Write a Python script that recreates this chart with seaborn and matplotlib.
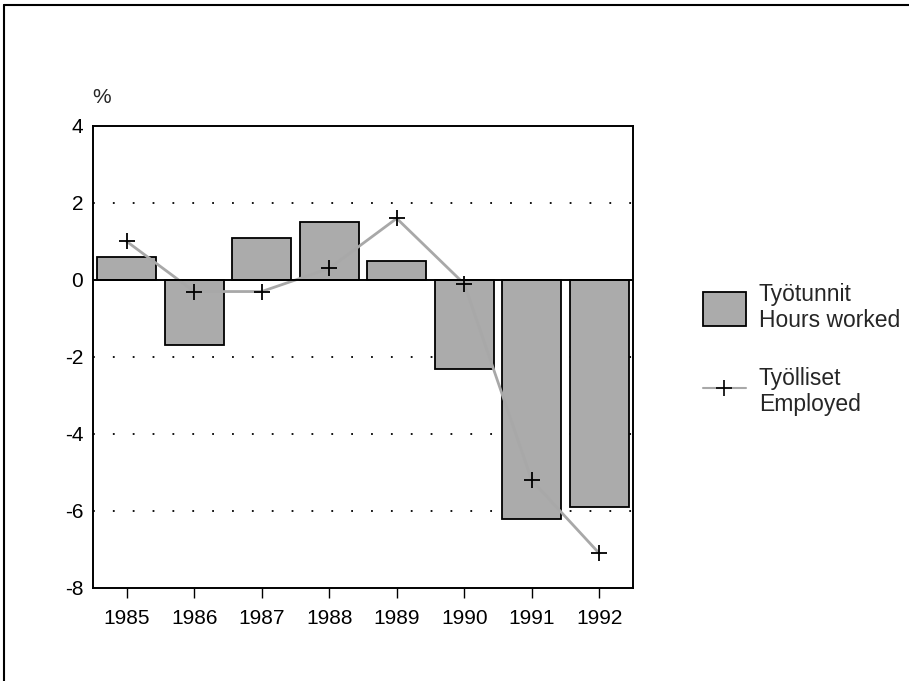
import matplotlib
matplotlib.use("Agg")
import matplotlib.pyplot as plt
import seaborn as sns
import pandas as pd
from matplotlib.patches import Patch
from matplotlib.lines import Line2D

# --- Data ---
years = ["1985", "1986", "1987", "1988", "1989", "1990", "1991", "1992"]
hours_worked = [0.6, -1.7, 1.1, 1.5, 0.5, -2.3, -6.2, -5.9]
employed = [1.0, -0.3, -0.3, 0.3, 1.6, -0.1, -5.2, -7.1]
y_ticks = [4, 2, 0, -2, -4, -6, -8]
label_hours = "Työtunnit\nHours worked"
label_employed = "Työlliset\nEmployed"

df = pd.DataFrame({"year": years, "hours": hours_worked, "employed": employed})

sns.set_theme(style="white")
plt.rcParams["font.family"] = ["Liberation Sans", "DejaVu Sans"]

fig = plt.figure(figsize=(9.09, 6.81), dpi=100)
ax = fig.add_axes([0.1023, 0.1366, 0.594, 0.6784])

# --- Bars ---
sns.barplot(data=df, x="year", y="hours", color="#ababab", saturation=1,
            edgecolor="black", linewidth=1.3, width=0.87, ax=ax, zorder=2)

# --- Line with + markers ---
sns.pointplot(data=df, x="year", y="employed", color="#a8a8a8", markers="+",
              linewidth=2.0, markersize=12, ax=ax, zorder=3)
for ln in ax.lines:
    ln.set_markeredgecolor("black")
    ln.set_markeredgewidth(1.3)

# --- Grid / axes ---
for yv in [2, -2, -4, -6]:
    ax.axhline(yv, color="black", linestyle=(0, (1, 10)), linewidth=1.3, zorder=1)
ax.axhline(0, color="black", linewidth=1.4, zorder=4)

ax.set_ylim(-8, 4)
ax.set_xlim(-0.5, 7.5)
ax.set_yticks(y_ticks)
ax.set_yticklabels([str(v) for v in y_ticks])
ax.set_xlabel("")
ax.set_ylabel("")
for sp in ax.spines.values():
    sp.set_color("black")
    sp.set_linewidth(1.4)
ax.tick_params(axis="y", length=0, pad=7, labelsize=15, colors="black")
ax.tick_params(axis="x", bottom=True, length=7, width=1, pad=8,
               labelsize=15, colors="black", direction="out")

fig.text(0.102, 0.843, "%", fontsize=15, ha="left", va="bottom")

# --- Legend ---
handles = [
    Patch(facecolor="#ababab", edgecolor="black", linewidth=1.3),
    Line2D([0], [0], color="#a8a8a8", linewidth=1.5, marker="+",
           markersize=11, markeredgecolor="black", markeredgewidth=1.2),
]
fig.legend(handles, [label_hours, label_employed], loc="upper left",
           bbox_to_anchor=(0.773, 0.585), frameon=False, fontsize=16.5,
           handlelength=1.9, handleheight=1.9, labelspacing=1.5,
           handletextpad=0.55, borderaxespad=0, borderpad=0)

# --- Page border ---
fig.add_artist(Line2D([0.004, 0.004], [0, 0.993], color="black", linewidth=1.5,
                      transform=fig.transFigure))
fig.add_artist(Line2D([0.004, 1], [0.993, 0.993], color="black", linewidth=1.5,
                      transform=fig.transFigure))

fig.savefig("out.png", dpi=100)
